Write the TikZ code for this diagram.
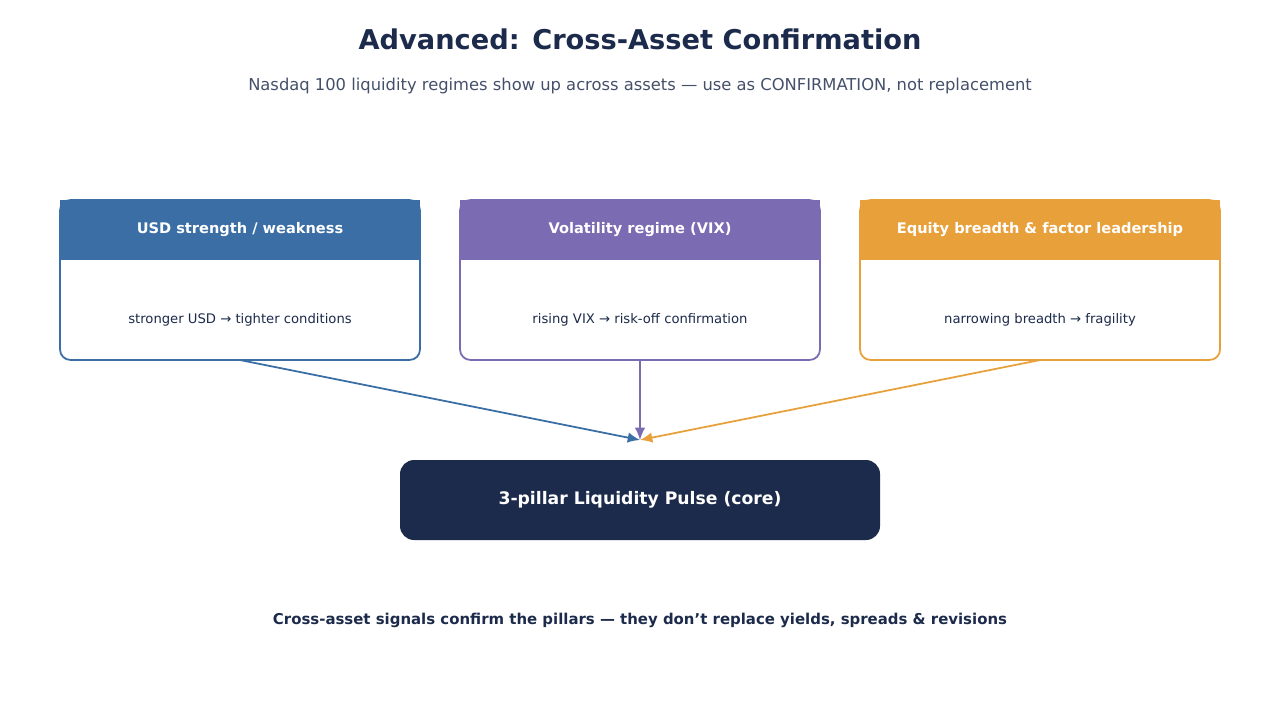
\documentclass[tikz,border=0pt]{standalone}
\usepackage{fontspec}
\setmainfont{DejaVu Sans}
\usetikzlibrary{arrows.meta}
\definecolor{navy}{HTML}{1C2A4B}
\definecolor{usdblue}{HTML}{3A6EA5}
\definecolor{vixpurple}{HTML}{7B6BB3}
\definecolor{breadthorange}{HTML}{E8A03A}
\definecolor{subgray}{HTML}{44506A}
\tikzset{
    pillar/.style = {draw=#1, line width=1pt, rounded corners=6pt, fill=white},
    head/.style = {fill=#1, draw=none},
    link/.style = {draw=#1, line width=1pt, -{Latex[length=7pt,width=6pt]}},
}
\begin{document}
\begin{tikzpicture}[x=0.02cm, y=-0.02cm]
        \useasboundingbox (0,0) rectangle (1280,720);
        \node[font = {\fontsize{15.5}{18}\selectfont\bfseries}, navy] (title) at (640, 39) {Advanced: Cross-Asset Confirmation};
        \node[font = {\fontsize{9.3}{11}\selectfont}, subgray] (subtitle) at (640, 86) {Nasdaq 100 liquidity regimes show up across assets — use as CONFIRMATION, not replacement};

        % pillar boxes
        \foreach \x/\col/\head/\body/\name in {
            60/usdblue/{USD strength / weakness}/{stronger USD → tighter conditions}/usd,
            460/vixpurple/{Volatility regime (VIX)}/{rising VIX → risk-off confirmation}/vix,
            860/breadthorange/{Equity breadth \& factor leadership}/{narrowing breadth → fragility}/breadth} {
            \draw[pillar=\col] (\x, 200) rectangle ++(360, 160);
            \fill[head=\col] (\x, 200) rectangle ++(360, 60);
            \node[font = {\fontsize{8.3}{10}\selectfont\bfseries}, white] at (\x+180, 230) {\head};
            \node[font = {\fontsize{7.5}{9}\selectfont}, navy] at (\x+180, 320) {\body};
            \coordinate (\name) at (\x+180, 360);
        }

        % core box
        \fill[navy, rounded corners=8pt] (400, 460) rectangle (880, 540);
        \node[font = {\fontsize{9.8}{12}\selectfont\bfseries}, white] (core) at (640, 500) {3-pillar Liquidity Pulse (core)};
        \coordinate (hub) at (640, 440);

        \draw[link=usdblue] (usd) -- (hub);
        \draw[link=vixpurple] (vix) -- (hub);
        \draw[link=breadthorange] (breadth) -- (hub);

        \node[font = {\fontsize{8.5}{10}\selectfont\bfseries}, navy] (footer) at (640, 620) {Cross-asset signals confirm the pillars — they don\char"0027 t replace yields, spreads \& revisions};
\end{tikzpicture}
\end{document}
